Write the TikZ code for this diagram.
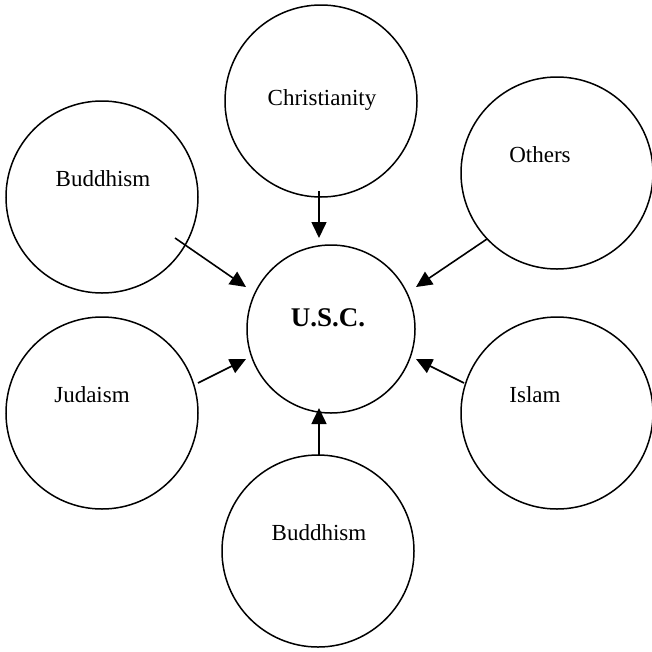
\documentclass[tikz,border=0pt]{standalone}
\usepackage{fontspec}
\setmainfont{Liberation Serif}
\usetikzlibrary{arrows.meta}
\begin{document}
\begin{tikzpicture}[x=1pt,y=-1pt,
  bubble/.style={circle, draw, line width=1.5pt, minimum size=192pt, inner sep=0pt},
  hub/.style={circle, draw, line width=1.5pt, minimum size=168pt, inner sep=0pt},
  lbl/.style={font=\fontsize{23}{26}\selectfont, inner sep=0pt},
  arr/.style={line width=1.6pt, -{Triangle[length=16pt,width=15pt]}}]
\useasboundingbox (0,0) rectangle (652,651);
% circles
\node[bubble] (chr) at (321,101) {};
\node[bubble] (budt) at (102,197) {};
\node[bubble] (oth) at (557,173) {};
\node[hub] (usc) at (331,329) {};
\node[bubble] (jud) at (102,413) {};
\node[bubble] (isl) at (557,413) {};
\node[bubble] (budb) at (318,551) {};
% labels
\node[lbl] (chr-t) at (322,100) {Christianity};
\node[lbl] (budt-t) at (103,179) {Buddhism};
\node[lbl] (oth-t) at (540,155) {Others};
\node[font=\fontsize{27}{30}\selectfont\bfseries, inner sep=0pt] (usc-t) at (328,318) {U.S.C.};
\node[lbl] (jud-t) at (92,395) {Judaism};
\node[lbl] (isl-t) at (535,395) {Islam};
\node[lbl] (budb-t) at (319,533) {Buddhism};
% arrow ends
\coordinate (c1) at (319,191); \coordinate (e1) at (319,238);
\coordinate (c2) at (175,238); \coordinate (e2) at (246,287);
\coordinate (c3) at (487,239); \coordinate (e3) at (416,287);
\coordinate (c4) at (198,383); \coordinate (e4) at (246,359);
\coordinate (c5) at (464,383); \coordinate (e5) at (416,359);
\coordinate (c6) at (319,455); \coordinate (e6) at (319,408);
\draw[arr] (c1) -- (e1);
\draw[arr] (c2) -- (e2);
\draw[arr] (c3) -- (e3);
\draw[arr] (c4) -- (e4);
\draw[arr] (c5) -- (e5);
\draw[arr] (c6) -- (e6);
\end{tikzpicture}
\end{document}
